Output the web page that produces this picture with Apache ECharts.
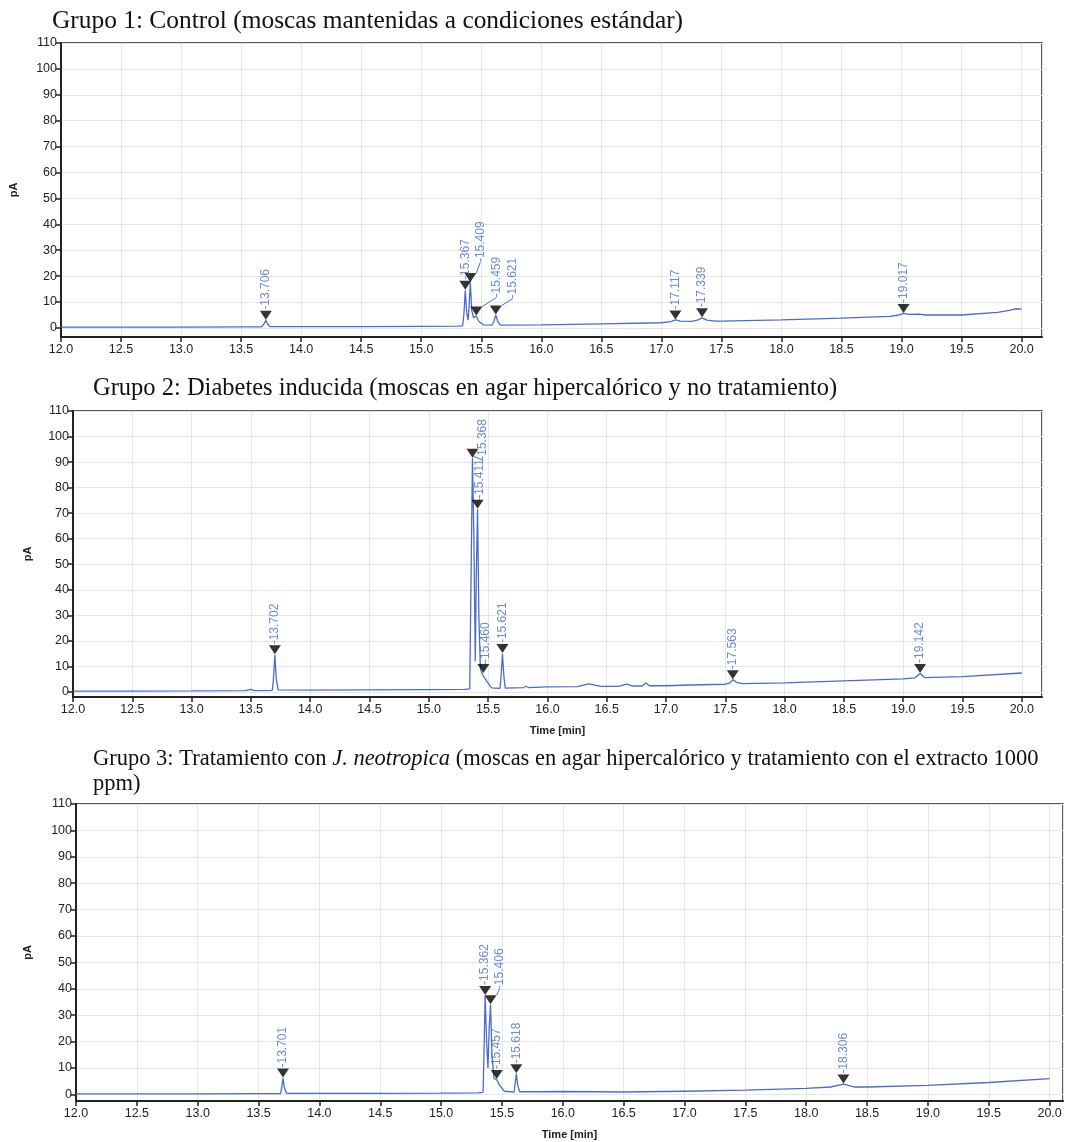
<!DOCTYPE html>
<html lang="es">
<head>
<meta charset="UTF-8">
<title>Cromatogramas</title>
<script src="https://cdn.jsdelivr.net/npm/echarts@6.0.0/dist/echarts.min.js"></script>
<style>
  html, body { margin: 0; padding: 0; background: #fff; }
  #main { width: 1068px; height: 1142px; }
</style>
</head>
<body>
<div id="main"></div>
<script type="text/javascript">
// traces: [time min, pA]
var trace1 = [
  [12.0, 0.3], [12.5, 0.3], [13.0, 0.3], [13.5, 0.4], [13.67, 0.4], [13.69, 1.5], [13.706, 3.0],
  [13.72, 1.5], [13.74, 0.5], [14.0, 0.5], [14.5, 0.5], [15.0, 0.6], [15.3, 0.7], [15.345, 0.8],
  [15.355, 5], [15.367, 14.5], [15.378, 6], [15.39, 3], [15.398, 8], [15.409, 17.5], [15.42, 7],
  [15.435, 4], [15.459, 4.6], [15.48, 2.5], [15.52, 1.2], [15.59, 1.1], [15.605, 2.5], [15.621, 5.0],
  [15.637, 2.5], [15.66, 1.1], [16.0, 1.2], [16.5, 1.6], [17.0, 2.0], [17.08, 2.4], [17.117, 3.1],
  [17.16, 2.6], [17.25, 2.5], [17.3, 3.0], [17.339, 3.9], [17.38, 3.0], [17.45, 2.6], [17.5, 2.6],
  [18.0, 3.1], [18.5, 3.8], [18.9, 4.5], [18.98, 5.0], [19.017, 5.6], [19.06, 5.2], [19.15, 5.3],
  [19.2, 5.0], [19.5, 5.0], [19.8, 6.0], [19.9, 6.8], [19.95, 7.4], [20.0, 7.3]
];
var trace2 = [
  [12.0, 0.3], [12.5, 0.3], [13.0, 0.4], [13.45, 0.5], [13.5, 1.0], [13.53, 0.5], [13.68, 0.6],
  [13.69, 5], [13.702, 14.5], [13.714, 5], [13.73, 0.8], [14.0, 0.7], [14.5, 0.8], [15.0, 0.9],
  [15.3, 1.0], [15.345, 1.2], [15.355, 40], [15.368, 91.5], [15.38, 60], [15.392, 12], [15.4, 45],
  [15.411, 71.5], [15.422, 30], [15.435, 9], [15.45, 7], [15.46, 7.2], [15.49, 4], [15.53, 1.6],
  [15.6, 1.4], [15.609, 6], [15.621, 15], [15.633, 6], [15.645, 1.5], [15.8, 1.7], [15.82, 2.2],
  [15.84, 1.7], [16.0, 2.0], [16.25, 2.1], [16.35, 3.1], [16.45, 2.2], [16.6, 2.2], [16.67, 3.0],
  [16.72, 2.3], [16.8, 2.3], [16.83, 3.5], [16.86, 2.4], [17.0, 2.4], [17.2, 2.7], [17.5, 3.0],
  [17.54, 3.5], [17.563, 4.8], [17.6, 3.6], [17.65, 3.2], [18.0, 3.5], [18.5, 4.3], [19.0, 5.1],
  [19.1, 5.5], [19.142, 7.2], [19.18, 5.6], [19.5, 6.0], [20.0, 7.4]
];
var trace3 = [
  [12.0, 0.2], [12.5, 0.2], [13.0, 0.2], [13.5, 0.3], [13.68, 0.3], [13.69, 2.5], [13.701, 6.2],
  [13.712, 2.5], [13.73, 0.4], [14.0, 0.4], [14.5, 0.4], [15.0, 0.5], [15.3, 0.6], [15.345, 0.8],
  [15.352, 15], [15.362, 37.5], [15.374, 20], [15.385, 10], [15.395, 25], [15.406, 34], [15.418, 15],
  [15.435, 6], [15.457, 5.6], [15.48, 3.5], [15.52, 1.2], [15.6, 0.9], [15.607, 3.5], [15.618, 7.8],
  [15.63, 3.5], [15.645, 1.0], [15.8, 1.0], [16.0, 1.1], [16.5, 0.9], [17.0, 1.2], [17.5, 1.6],
  [18.0, 2.3], [18.2, 2.8], [18.306, 3.9], [18.4, 2.8], [18.5, 2.8], [19.0, 3.4], [19.5, 4.5], [20.0, 6.0]
];

// integrated peaks: retention times and apex heights
var peakTimes1 = [13.706, 15.367, 15.409, 15.459, 15.621, 17.117, 17.339, 19.017];
var peakHeights1 = [3.0, 14.5, 17.5, 4.6, 5.0, 3.1, 3.9, 5.6];
var peakTimes2 = [13.702, 15.368, 15.411, 15.460, 15.621, 17.563, 19.142];
var peakHeights2 = [14.5, 91.5, 71.5, 7.2, 15, 4.8, 7.2];
var peakTimes3 = [13.701, 15.362, 15.406, 15.457, 15.618, 18.306];
var peakHeights3 = [6.2, 37.5, 34, 5.6, 7.8, 3.9];

var panelTitles = [
  'Grupo 1: Control (moscas mantenidas a condiciones estándar)',
  'Grupo 2: Diabetes inducida (moscas en agar hipercalórico y no tratamiento)',
  '{n|Grupo 3: Tratamiento con }{i|J. neotropica}{n| (moscas en agar hipercalórico y tratamiento con el extracto 1000}\n{n|ppm)}'
];

// label nudges for crowded peaks, px [right, up]
var labelShift = [
  [[0, 0], [0, 0], [10, 10], [20, 8], [17, 6], [0, 0], [0, 0], [0, 0]],
  [[0, 0], [10, -12], [2, 0], [2, 0], [0, 0], [0, 0], [0, 0]],
  [[0, 0], [0, 0], [9, 5], [0, 0], [0, 0], [0, 0]]
];

var grids = [
  { left: 61, top: 43, width: 981, height: 294, xMax: 20.17, yMin: -3.5, nameGap: 42, timeName: '' },
  { left: 73, top: 411, width: 969, height: 286, xMax: 20.17, yMin: -2, nameGap: 40, timeName: 'Time [min]' },
  { left: 76, top: 804, width: 987, height: 297, xMax: 20.11, yMin: -2.5, nameGap: 43, timeName: 'Time [min]' }
];
var traces = [trace1, trace2, trace3];
var peakTimes = [peakTimes1, peakTimes2, peakTimes3];
var peakHeights = [peakHeights1, peakHeights2, peakHeights3];

var blue = '#4a6ccf';
var ink = '#222';
var serif = '"Liberation Serif", "Times New Roman", serif';
var sans = '"Liberation Sans", Arial, sans-serif';

var myChart = echarts.init(document.getElementById('main'));

var option = {
  backgroundColor: '#fff',
  animation: false,
  title: [
    { text: panelTitles[0], left: 47, top: 4, textStyle: { fontFamily: serif, fontSize: 25.4, fontWeight: 'normal', color: '#111' } },
    { text: panelTitles[1], left: 88, top: 371, textStyle: { fontFamily: serif, fontSize: 24.5, fontWeight: 'normal', color: '#111' } },
    {
      text: panelTitles[2], left: 88, top: 742,
      textStyle: {
        rich: {
          n: { fontFamily: serif, fontSize: 22.5, fontWeight: 'normal', color: '#111', lineHeight: 25 },
          i: { fontFamily: serif, fontSize: 22.5, fontWeight: 'normal', color: '#111', fontStyle: 'italic', lineHeight: 25 }
        }
      }
    }
  ],
  grid: [],
  xAxis: [],
  yAxis: [],
  series: []
};

grids.forEach(function (g, i) {
  option.grid.push({
    left: g.left, top: g.top, width: g.width, height: g.height,
    show: true, borderColor: ink, borderWidth: 1.5, backgroundColor: '#fff'
  });
  option.xAxis.push({
    type: 'value', gridIndex: i, min: 12, max: g.xMax, splitNumber: 16,
    name: g.timeName, nameLocation: 'middle', nameGap: 28,
    nameTextStyle: { fontFamily: sans, fontSize: 11, fontWeight: 'bold', color: ink },
    axisLine: { show: true, onZero: false, lineStyle: { color: ink, width: 2 } },
    axisTick: { show: true, length: 5, lineStyle: { color: ink, width: 1.5 } },
    axisLabel: {
      fontFamily: sans, fontSize: 12.5, color: ink, margin: 6, showMaxLabel: false,
      formatter: function (v) { return v.toFixed(1); }
    },
    splitLine: { show: true, lineStyle: { color: '#e6e6e6', width: 1 } }
  });
  option.yAxis.push({
    type: 'value', gridIndex: i, min: g.yMin, max: 110, splitNumber: 11,
    name: 'pA', nameLocation: 'middle', nameGap: g.nameGap,
    nameTextStyle: { fontFamily: sans, fontSize: 11, fontWeight: 'bold', color: ink },
    axisLine: { show: true, onZero: false, lineStyle: { color: ink, width: 2 } },
    axisTick: { show: true, length: 5, lineStyle: { color: ink, width: 1.5 } },
    axisLabel: { fontFamily: sans, fontSize: 12.5, color: ink, margin: 4, showMinLabel: false },
    splitLine: { show: true, lineStyle: { color: '#e6e6e6', width: 1 } }
  });
  option.series.push({
    type: 'line', xAxisIndex: i, yAxisIndex: i,
    data: traces[i], showSymbol: false, symbol: 'none',
    lineStyle: { color: blue, width: 1.3 }, z: 3
  });
  var shifts = labelShift[i];
  option.series.push({
    type: 'scatter', xAxisIndex: i, yAxisIndex: i,
    symbol: 'triangle', symbolRotate: 180, symbolSize: [12, 9], symbolOffset: [0, -5],
    itemStyle: { color: '#000' }, z: 4,
    data: peakTimes[i].map(function (t, k) {
      var moved = shifts[k][0] !== 0 || shifts[k][1] !== 0;
      return { value: [t, peakHeights[i][k]], labelLine: { show: moved } };
    }),
    label: {
      show: true, position: 'top', rotate: 90, align: 'left', verticalAlign: 'middle', distance: 1,
      fontFamily: sans, fontSize: 12, color: blue,
      formatter: function (p) { return '-' + p.value[0].toFixed(3); }
    },
    labelLine: { show: false, lineStyle: { color: blue, width: 1 } },
    // the label frame is turned 90 degrees: its x runs upward, its y runs right
    labelLayout: function (p) {
      return { dx: shifts[p.dataIndex][1], dy: shifts[p.dataIndex][0] };
    }
  });
});

myChart.setOption(option);
</script>
</body>
</html>
